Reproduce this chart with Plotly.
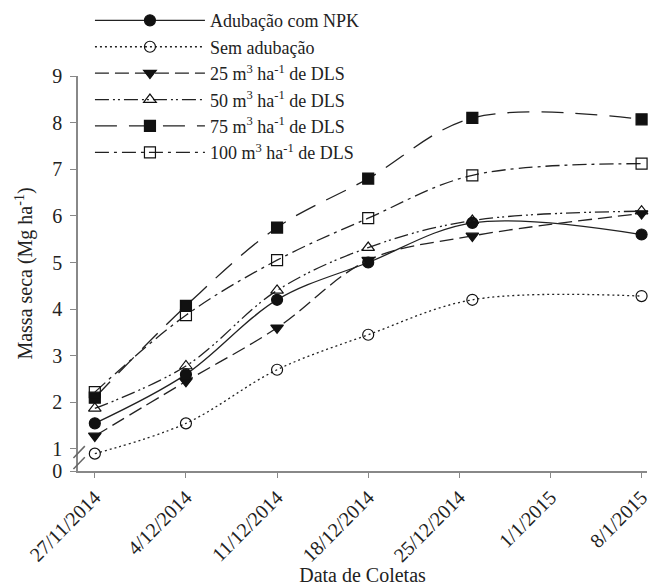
import plotly.graph_objects as go

dates = ["2014-11-27", "2014-12-04", "2014-12-11", "2014-12-18", "2014-12-26", "2015-01-08"]
tick_dates = ["2014-11-27", "2014-12-04", "2014-12-11", "2014-12-18", "2014-12-25", "2015-01-01", "2015-01-08"]
tick_text = ["27/11/2014", "4/12/2014", "11/12/2014", "18/12/2014", "25/12/2014", "1/1/2015", "8/1/2015"]

npk = [1.55, 2.60, 4.20, 5.00, 5.85, 5.60]
sem = [0.90, 1.55, 2.70, 3.45, 4.20, 4.28]
dls25 = [1.28, 2.45, 3.60, 5.05, 5.57, 6.05]
dls50 = [1.87, 2.78, 4.40, 5.32, 5.90, 6.10]
dls75 = [2.10, 4.07, 5.75, 6.80, 8.10, 8.07]
dls100 = [2.22, 3.87, 5.05, 5.95, 6.87, 7.12]

names = ["Adubação com NPK", "Sem adubação",
         "25 m<sup>3</sup> ha<sup>-1</sup> de DLS",
         "50 m<sup>3</sup> ha<sup>-1</sup> de DLS",
         "75 m<sup>3</sup> ha<sup>-1</sup> de DLS",
         "100 m<sup>3</sup> ha<sup>-1</sup> de DLS"]
series = [npk, sem, dls25, dls50, dls75, dls100]
symbols = ["circle", "circle-open", "triangle-down", "triangle-up-open", "square", "square-open"]
dashes = ["solid", "2px,3px", "14px,6px", "14px,4px,2px,3px,2px,4px", "22px,12px", "14px,5px,3px,5px"]

y_tick_vals = [0.528, 1, 2, 3, 4, 5, 6, 7, 8, 9]
y_tick_text = ["0", "1", "2", "3", "4", "5", "6", "7", "8", "9"]

fig = go.Figure()
for nm, ys, sym, ds in zip(names, series, symbols, dashes):
    fig.add_trace(go.Scatter(
        x=dates, y=ys, name=nm, mode="lines+markers",
        line=dict(color="#222222", width=1.3, dash=ds, shape="spline", smoothing=1.0),
        marker=dict(symbol=sym, size=11, color="#111111",
                    line=dict(color="#111111", width=1.2)),
        cliponaxis=False,
    ))

font_family = "Liberation Serif, Times New Roman, serif"
fig.update_layout(
    width=651, height=586,
    margin=dict(l=78, r=0, t=76, b=115),
    paper_bgcolor="white", plot_bgcolor="white",
    font=dict(family=font_family, size=20, color="#222222"),
    showlegend=True,
    legend=dict(x=0.021, y=1.187, xanchor="left", yanchor="top",
                bgcolor="rgba(0,0,0,0)", itemwidth=110,
                font=dict(size=18), tracegroupgap=0),
    xaxis=dict(
        type="date",
        range=["2014-11-25 17:00", "2015-01-08 10:00"],
        tickvals=tick_dates, ticktext=tick_text, tickangle=-45,
        tickfont=dict(size=20), ticklabeloverflow="allow",
        showgrid=False, zeroline=False,
        showline=True, linecolor="#888888", linewidth=1.5,
        ticks="outside", ticklen=5, tickcolor="#888888",
        title=dict(text="Data de Coletas", font=dict(size=20), standoff=2),
    ),
    yaxis=dict(
        range=[0.528, 9],
        tickvals=y_tick_vals, ticktext=y_tick_text,
        tickfont=dict(size=20), ticklabelstandoff=4,
        showgrid=False, zeroline=False,
        showline=True, linecolor="#888888", linewidth=1.5,
        ticks="outside", ticklen=6, tickcolor="#888888",
        title=dict(text="Massa seca (Mg ha<sup>-1</sup>)", font=dict(size=20), standoff=14),
    ),
)

# axis break marks
for dy in (0.0, 0.028):
    fig.add_shape(type="line", xref="paper", yref="paper",
                  x0=-0.008, x1=0.012, y0=0.005 + dy, y1=0.035 + dy,
                  line=dict(color="#666666", width=1.5))

fig.write_html("out.html")
